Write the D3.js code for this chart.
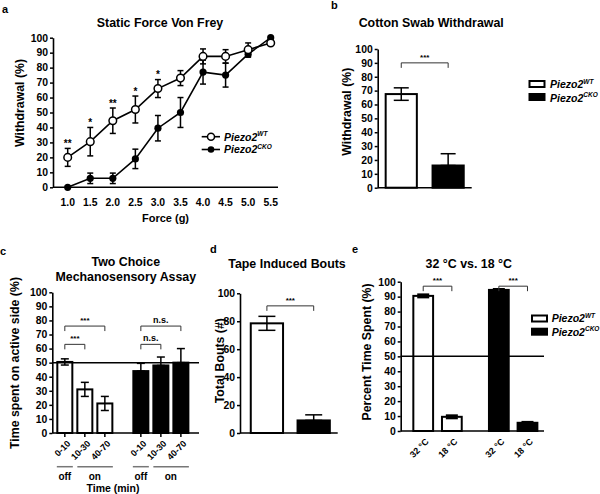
<!DOCTYPE html>
<html><head><meta charset="utf-8">
<script src="https://cdn.jsdelivr.net/npm/d3@7"></script>
<style>
body{margin:0;background:#fff}
svg{font-family:"Liberation Sans",Arial,sans-serif;font-weight:bold}
text{fill:#000}
</style></head>
<body><svg id="fig" width="600" height="494"></svg>
<script>
// ---------- data ----------
const forces = [1.0, 1.5, 2.0, 2.5, 3.0, 3.5, 4.0, 4.5, 5.0, 5.5];
const vfWT = [20, 30.5, 44.5, 52, 66, 73, 87.5, 87.5, 92, 96.5];
const vfWTerr = [6, 9.5, 8.5, 9, 6, 5, 5, 4.5, 4.5, 1.5];
const vfCKO = [0, 6, 6, 19, 39.5, 50, 77, 75, 89, 100];
const vfCKOerr = [0, 3.5, 3.5, 6.5, 8.5, 10, 8, 8, 2, 0];
const vfStars = ["**", "*", "**", "*", "*", "", "", "", "", ""];

const genotypes = ["WT", "CKO"];
const cottonMean = [67.5, 16];
const cottonErr = [4.5, 8.5];

const timeBins = ["0-10", "10-30", "40-70"];
const twoChoiceWT = [50.5, 31, 21];
const twoChoiceWTerr = [2.2, 5, 5];
const twoChoiceCKO = [44, 48, 50];
const twoChoiceCKOerr = [5.5, 6, 10];

const tapeMean = [78.5, 9];
const tapeErr = [5, 4];

const temps = ["32 °C", "18 °C"];
const tempWT = [90.5, 9.5];
const tempWTerr = [1, 1];
const tempCKO = [94.5, 5.5];
const tempCKOerr = [0.6, 0.6];

const ticks100by10 = [0, 10, 20, 30, 40, 50, 60, 70, 80, 90, 100];
const ticks100by20 = [0, 20, 40, 60, 80, 100];

// ---------- helpers ----------
const svg = d3.select("#fig");
const FS_TICK = 10.4, FS_LABEL = 12.3, FS_TITLE = 12.4;

function yAxis(x, y, ticks) {
  const g = svg.append("g").attr("transform", `translate(${x},0)`)
    .call(d3.axisLeft(y).tickValues(ticks).tickSize(3).tickSizeOuter(0).tickPadding(2));
  g.selectAll("text").attr("font-size", FS_TICK).attr("font-weight", "bold").attr("font-family", "Liberation Sans, Arial, sans-serif").attr("fill", "#000");
  g.selectAll("line").attr("stroke-width", 1.5);
  g.select(".domain").attr("stroke-width", 1.6);
  return g;
}
function hline(x1, x2, y, w, col) {
  svg.append("line").attr("x1", x1).attr("x2", x2).attr("y1", y).attr("y2", y)
    .attr("stroke", col || "#000").attr("stroke-width", w || 1.6);
}
function text(x, y, s, size, anchor, opts) {
  const t = svg.append("text").attr("x", x).attr("y", y).attr("font-size", size)
    .attr("text-anchor", anchor || "middle").attr("fill", "#000").text(s);
  if (opts && opts.rotate) t.attr("transform", `rotate(${opts.rotate},${x},${y})`);
  return t;
}
function errBar(cx, yTop, yBot, cap, w) {
  const g = svg.append("g").attr("stroke", "#000").attr("stroke-width", w || 1.5);
  g.append("line").attr("x1", cx).attr("x2", cx).attr("y1", yTop).attr("y2", yBot);
  g.append("line").attr("x1", cx - cap / 2).attr("x2", cx + cap / 2).attr("y1", yTop).attr("y2", yTop);
  g.append("line").attr("x1", cx - cap / 2).attr("x2", cx + cap / 2).attr("y1", yBot).attr("y2", yBot);
}
function bracket(x1, x2, yTop, legs, label, fs) {
  svg.append("path").attr("d", `M${x1},${yTop + legs}V${yTop}H${x2}V${yTop + legs}`)
    .attr("fill", "none").attr("stroke", "#333").attr("stroke-width", 1);
  text((x1 + x2) / 2, yTop - 3, label, fs || 8).attr("fill", "#222");
}
function legendLabel(x, y, sup, fs) {
  const t = svg.append("text").attr("x", x).attr("y", y).attr("font-size", fs || 10.5)
    .attr("font-style", "italic").attr("fill", "#000");
  t.append("tspan").text("Piezo2");
  t.append("tspan").attr("font-size", 6.5).attr("dy", -4.5).text(sup);
  return t;
}

// ---------- panel a ----------
{
  const x = d3.scaleLinear().domain([1, 5.5]).range([67.7, 270.7]);
  const y = d3.scaleLinear().domain([0, 100]).range([187.3, 37.7]);
  text(2, 13, "a", 11, "start");
  text(160, 27, "Static Force Von Frey", FS_TITLE);
  yAxis(53, y, ticks100by10);
  hline(53, 278, y(0));
  forces.forEach(f => text(x(f), 205.5, d3.format(".1f")(f), FS_TICK));
  text(165.5, 222, "Force (g)", 11);
  text(20, 103, "Withdrawal (%)", FS_LABEL, "middle", {rotate: -90}).attr("dy", 4);

  const line = d3.line().x(d => x(d[0])).y(d => y(d[1]));
  const ckoPts = forces.map((f, i) => [f, vfCKO[i]]);
  const wtPts = forces.map((f, i) => [f, vfWT[i]]);
  svg.append("path").attr("d", line(ckoPts)).attr("fill", "none").attr("stroke", "#000").attr("stroke-width", 1.6);
  svg.append("path").attr("d", line(wtPts)).attr("fill", "none").attr("stroke", "#000").attr("stroke-width", 1.6);
  forces.forEach((f, i) => {
    if (vfCKOerr[i] > 0) errBar(x(f), y(vfCKO[i] + vfCKOerr[i]), y(vfCKO[i] - vfCKOerr[i]), 6);
    errBar(x(f), y(vfWT[i] + vfWTerr[i]), y(vfWT[i] - vfWTerr[i]), 6);
  });
  forces.forEach((f, i) => {
    svg.append("circle").attr("cx", x(f)).attr("cy", y(vfCKO[i])).attr("r", 3.6).attr("fill", "#000");
  });
  forces.forEach((f, i) => {
    svg.append("circle").attr("cx", x(f)).attr("cy", y(vfWT[i])).attr("r", 3.8)
      .attr("fill", "#fff").attr("stroke", "#000").attr("stroke-width", 1.5);
    if (vfStars[i]) text(x(f), y(vfWT[i] + vfWTerr[i] + 3) + 3, vfStars[i], 10).attr("fill", "#000");
  });
  // legend
  hline(201.7, 220, 136.7, 1.6);
  svg.append("circle").attr("cx", 211).attr("cy", 136.7).attr("r", 3.5).attr("fill", "#fff").attr("stroke", "#000").attr("stroke-width", 1.5);
  legendLabel(224, 140.5, "WT");
  hline(201.7, 220, 149.5, 1.6);
  svg.append("circle").attr("cx", 211).attr("cy", 149.5).attr("r", 3.3).attr("fill", "#000");
  legendLabel(224, 153.3, "CKO");
}

// ---------- panel b ----------
{
  const x = d3.scaleBand().domain(genotypes).range([377.7, 471.7]).paddingInner(0.335).paddingOuter(0.17);
  const y = d3.scaleLinear().domain([0, 100]).range([187.7, 49]);
  text(331, 9, "b", 11, "start");
  text(431.2, 27.3, "Cotton Swab Withdrawal", FS_TITLE);
  genotypes.forEach((g, i) => {
    if (i === 0) errBar(x(g) + x.bandwidth() / 2, y(cottonMean[i] + cottonErr[i]), y(cottonMean[i] - cottonErr[i]), 15);
    svg.append("rect").attr("x", x(g)).attr("y", y(cottonMean[i])).attr("width", x.bandwidth())
      .attr("height", y(0) - y(cottonMean[i])).attr("fill", i ? "#000" : "none").attr("stroke", "#000").attr("stroke-width", 2);
    if (i === 1) errBar(x(g) + x.bandwidth() / 2, y(cottonMean[i] + cottonErr[i]), y(cottonMean[i]), 15);
  });
  yAxis(377.7, y, ticks100by10);
  hline(377.7, 471.7, y(0));
  text(346.7, 111.7, "Withdrawal (%)", FS_LABEL, "middle", {rotate: -90}).attr("dy", 4);
  bracket(x("WT") + x.bandwidth() / 2, x("CKO") + x.bandwidth() / 2, y(90), 5, "***");
  svg.append("rect").attr("x", 529.5).attr("y", 81).attr("width", 15).attr("height", 6).attr("fill", "#fff").attr("stroke", "#000").attr("stroke-width", 2);
  legendLabel(550, 88, "WT");
  svg.append("rect").attr("x", 529.5).attr("y", 94).attr("width", 15).attr("height", 6).attr("fill", "#000").attr("stroke", "#000").attr("stroke-width", 2);
  legendLabel(550, 101.5, "CKO");
}

// ---------- panel c ----------
{
  const xg = d3.scaleBand().domain(genotypes).range([52.3, 193.4]).paddingInner(0.276).paddingOuter(0.066);
  const xi = d3.scaleBand().domain(timeBins).range([0, xg.bandwidth()]).paddingInner(0.25).paddingOuter(0);
  const y = d3.scaleLinear().domain([0, 100]).range([433, 292.3]);
  text(0, 255, "c", 11, "start");
  text(125.8, 265.7, "Two Choice", FS_TITLE);
  text(125.8, 280.7, "Mechanosensory Assay", FS_TITLE);
  const groups = [[twoChoiceWT, twoChoiceWTerr], [twoChoiceCKO, twoChoiceCKOerr]];
  groups.forEach(([m, e], gi) => {
    const g = genotypes[gi];
    timeBins.forEach((t, i) => {
      const bx = xg(g) + xi(t), cx = bx + xi.bandwidth() / 2;
      svg.append("rect").attr("x", bx).attr("y", y(m[i])).attr("width", xi.bandwidth())
        .attr("height", y(0) - y(m[i])).attr("fill", gi ? "#000" : "#fff").attr("stroke", "#000").attr("stroke-width", 2);
      errBar(cx, y(m[i] + e[i]), gi ? y(m[i]) : y(m[i] - e[i]), 8);
      svg.append("line").attr("x1", cx).attr("x2", cx).attr("y1", y(0)).attr("y2", y(0) + 4).attr("stroke", "#000").attr("stroke-width", 1.5);
      const lx = cx + 4, ly = y(0) + 9;
      svg.append("text").attr("x", lx).attr("y", ly).attr("font-size", 9).attr("text-anchor", "end").attr("fill", "#000")
        .attr("transform", `rotate(-45,${lx},${ly})`).attr("dy", "0.35em").text(t);
    });
    const c0 = xg(g) + xi(timeBins[0]);
    const c1 = xg(g) + xi(timeBins[1]);
    const c2end = xg(g) + xi(timeBins[2]) + xi.bandwidth();
    hline(c0 - 0.5, c0 + xi.bandwidth() + 0.5, 466.7, 1.5, "#777");
    hline(c1, c2end + 0.5, 466.7, 1.5, "#777");
    text(c0 + xi.bandwidth() / 2, 479.5, "off", 10);
    text((c1 + c2end) / 2, 479.5, "on", 10);
    const lab = gi ? "n.s." : "***";
    const fsz = gi ? 9 : 8;
    const cA = c0 + xi.bandwidth() / 2, cB = c1 + xi.bandwidth() / 2, cC = xg(g) + xi(timeBins[2]) + xi.bandwidth() / 2;
    bracket(cA, cC, y(76), 5, lab, fsz);
    bracket(cA, cB, y(63), 5, lab, fsz);
  });
  yAxis(52.3, y, ticks100by10);
  hline(52.3, 199, y(0));
  hline(52.3, 199, y(50), 1.5);
  text(113, 492, "Time (min)", 10.5);
  text(15, 363, "Time spent on active side (%)", FS_LABEL, "middle", {rotate: -90}).attr("dy", 4);
}

// ---------- panel d ----------
{
  const x = d3.scaleBand().domain(genotypes).range([240, 340.6]).paddingInner(0.31).paddingOuter(0.23);
  const y = d3.scaleLinear().domain([0, 100]).range([433, 293.3]);
  text(210, 253, "d", 11, "start");
  text(287, 268.3, "Tape Induced Bouts", FS_TITLE);
  genotypes.forEach((g, i) => {
    if (i === 0) errBar(x(g) + x.bandwidth() / 2, y(tapeMean[i] + tapeErr[i]), y(tapeMean[i] - tapeErr[i]), 17);
    svg.append("rect").attr("x", x(g)).attr("y", y(tapeMean[i])).attr("width", x.bandwidth())
      .attr("height", y(0) - y(tapeMean[i])).attr("fill", i ? "#000" : "none").attr("stroke", "#000").attr("stroke-width", 2);
    if (i === 1) errBar(x(g) + x.bandwidth() / 2, y(tapeMean[i] + tapeErr[i]), y(tapeMean[i]), 17);
  });
  yAxis(240, y, ticks100by20);
  hline(240, 337.7, y(0));
  text(220, 360.7, "Total Bouts (#)", FS_LABEL, "middle", {rotate: -90}).attr("dy", 4);
  bracket(x("WT") + x.bandwidth() / 2, x("CKO") + x.bandwidth() / 2, y(91), 5, "***");
}

// ---------- panel e ----------
{
  const xg = d3.scaleBand().domain(genotypes).range([400.7, 550]).paddingInner(0.36).paddingOuter(0.167);
  const xi = d3.scaleBand().domain(temps).range([0, xg.bandwidth()]).paddingInner(0.31).paddingOuter(0);
  const y = d3.scaleLinear().domain([0, 100]).range([431, 281.7]);
  text(352, 253, "e", 11, "start");
  text(468.8, 267.7, "32 °C vs. 18 °C", FS_TITLE);
  const groups = [[tempWT, tempWTerr], [tempCKO, tempCKOerr]];
  groups.forEach(([m, e], gi) => {
    const g = genotypes[gi];
    temps.forEach((t, i) => {
      const bx = xg(g) + xi(t), cx = bx + xi.bandwidth() / 2;
      svg.append("rect").attr("x", bx).attr("y", y(m[i])).attr("width", xi.bandwidth())
        .attr("height", y(0) - y(m[i])).attr("fill", gi ? "#000" : "#fff").attr("stroke", "#000").attr("stroke-width", 2);
      errBar(cx, y(m[i] + e[i]), y(m[i] - e[i]), 12, 2);
      svg.append("rect").attr("x", cx - 5).attr("y", y(m[i] + e[i])).attr("width", 10)
        .attr("height", y(m[i] - e[i]) - y(m[i] + e[i])).attr("fill", "#000");
      const lx = cx + 4, ly = y(0) + 9;
      svg.append("text").attr("x", lx).attr("y", ly).attr("font-size", 9).attr("text-anchor", "end").attr("fill", "#000")
        .attr("transform", `rotate(-45,${lx},${ly})`).attr("dy", "0.35em").text(t);
    });
    const cA = xg(g) + xi(temps[0]) + xi.bandwidth() / 2, cB = xg(g) + xi(temps[1]) + xi.bandwidth() / 2;
    bracket(cA, cB, y(97), 5, "***");
  });
  yAxis(400.7, y, ticks100by10);
  hline(400.7, 544, y(0));
  hline(400.7, 544, y(50), 1.5);
  text(367, 352, "Percent Time Spent (%)", FS_LABEL, "middle", {rotate: -90}).attr("dy", 4);
  svg.append("rect").attr("x", 532).attr("y", 315.5).attr("width", 15).attr("height", 6).attr("fill", "#fff").attr("stroke", "#000").attr("stroke-width", 2);
  legendLabel(551.7, 322, "WT");
  svg.append("rect").attr("x", 532).attr("y", 328.7).attr("width", 15).attr("height", 6).attr("fill", "#000").attr("stroke", "#000").attr("stroke-width", 2);
  legendLabel(551.7, 335.5, "CKO");
}
</script></body></html>
